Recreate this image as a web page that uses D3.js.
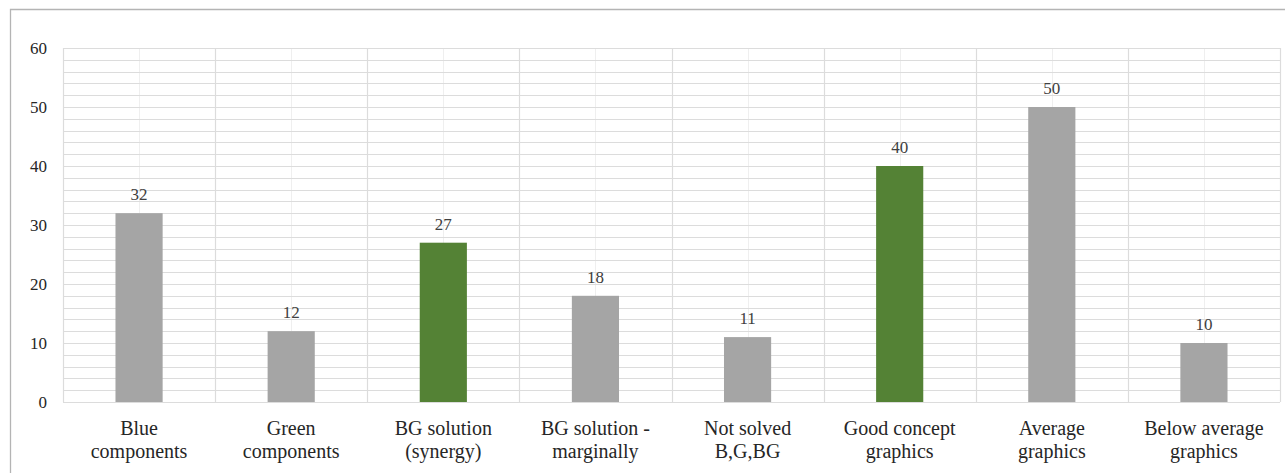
<!DOCTYPE html>
<html><head><meta charset="utf-8">
<script src="https://cdn.jsdelivr.net/npm/d3@7"></script>
<style>body{margin:0;background:#fff;}svg{display:block;}</style>
</head><body>
<script>
const categories = [["Blue","components"],["Green","components"],["BG solution","(synergy)"],["BG solution -","marginally"],["Not solved","B,G,BG"],["Good concept","graphics"],["Average","graphics"],["Below average","graphics"]];
const values = [32,12,27,18,11,40,50,10];
const highlighted = [false,false,true,false,false,true,false,false];
const yTicks = [0,10,20,30,40,50,60];
const minorTicks = d3.range(0,61,2);

const W=1285,H=473;
const FONT="'Liberation Serif', 'Times New Roman', serif";
const svg=d3.select("body").append("svg").attr("width",W).attr("height",H);
const m={l:63,r:1280,t:48,b:402};
const x=d3.scaleBand().domain(d3.range(categories.length)).range([m.l,m.r]).paddingInner(0).paddingOuter(0);
const y=d3.scaleLinear().domain([0,60]).range([m.b,m.t]);
const cx=i=>x(i)+x.bandwidth()/2;

// frame
svg.append("path").attr("d",`M10.5,${H}V9.5H${W}`).attr("fill","none").attr("stroke","#b4b4b4").attr("stroke-width",1.3);

// vertical center lines (faint)
svg.append("g").selectAll("line").data(d3.range(categories.length)).join("line")
  .attr("x1",i=>Math.round(cx(i))+0.5).attr("x2",i=>Math.round(cx(i))+0.5)
  .attr("y1",y(60)).attr("y2",y(0)).attr("stroke","#efefef");
// horizontal grid
svg.append("g").selectAll("line").data(minorTicks).join("line")
  .attr("x1",m.l).attr("x2",m.r).attr("y1",d=>Math.round(y(d))+0.5).attr("y2",d=>Math.round(y(d))+0.5)
  .attr("stroke","#dcdcdc").attr("stroke-width",1.2);
// vertical boundary lines
svg.append("g").selectAll("line").data(d3.range(categories.length+1)).join("line")
  .attr("x1",i=>Math.round(i<categories.length?x(i):m.r)+0.5).attr("x2",i=>Math.round(i<categories.length?x(i):m.r)+0.5)
  .attr("y1",y(60)).attr("y2",y(0)).attr("stroke","#dcdcdc").attr("stroke-width",1.2);

// bars
const bw=x.bandwidth()*0.31;
svg.append("g").selectAll("rect").data(values).join("rect")
  .attr("x",(d,i)=>cx(i)-bw/2).attr("width",bw)
  .attr("y",d=>y(d)).attr("height",d=>y(0)-y(d))
  .attr("fill",(d,i)=>highlighted[i]?"#548235":"#a5a5a5");

// value labels
svg.append("g").selectAll("text").data(values).join("text")
  .attr("x",(d,i)=>cx(i)).attr("y",d=>y(d)-13)
  .attr("text-anchor","middle")
  .style("font-family",FONT,"important").style("font-size","17px","important")
  .attr("fill","#404040").text(d=>d);

// y axis labels
const yAxis=d3.axisLeft(y).tickValues(yTicks).tickSize(0).tickPadding(16);
const ga=svg.append("g").attr("transform",`translate(${m.l},0)`).call(yAxis);
ga.select(".domain").remove();
ga.selectAll("text").style("font-family",FONT,"important").style("font-size","17px","important").attr("fill","#262626");

// category labels
const cl=svg.append("g").selectAll("text").data(categories).join("text")
  .attr("x",(d,i)=>cx(i)).attr("y",435)
  .attr("text-anchor","middle")
  .style("font-family",FONT,"important").style("font-size","20px","important").attr("fill","#262626");
cl.selectAll("tspan").data(d=>d).join("tspan")
  .attr("x",(d,j,n)=>n[j].parentNode.getAttribute("x"))
  .attr("dy",(d,j)=>j===0?0:23).text(d=>d);
</script>
</body></html>
